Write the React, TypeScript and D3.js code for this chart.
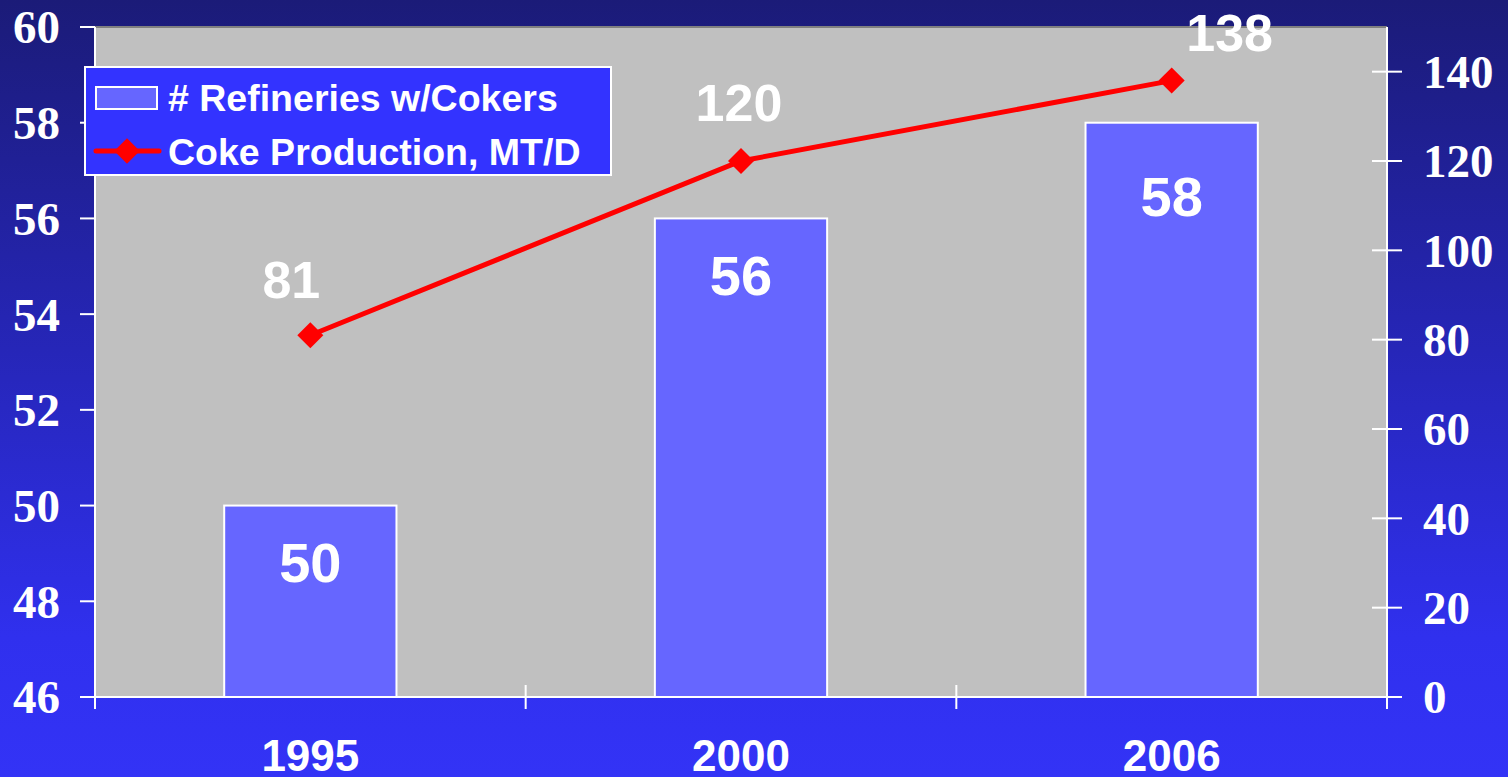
import React from "react";
import * as d3 from "d3";

const categories = ["1995", "2000", "2006"];
const refineries = [50, 56, 58];
const cokeProduction = [81, 120, 138];
const leftTicks = [46, 48, 50, 52, 54, 56, 58, 60];
const rightTicks = [0, 20, 40, 60, 80, 100, 120, 140];
const seriesNames = ["# Refineries w/Cokers", "Coke Production, MT/D"];
// label nudges (dx, dy from the point / bar top)
const lineLabelNudge = [[-19, -37], [-2, -40], [58, -30]];
const barLabelNudge = [76, 77, 93];

const W = 1508, H = 777;
const L = 95, R = 1387, T = 27, B = 697;

export default function App() {
  const x = d3.scaleBand<string>().domain(categories).range([L, R]).padding(0);
  const yL = d3.scaleLinear().domain([46, 60]).range([B, T]);
  const yR = d3.scaleLinear().domain([0, 150]).range([B, T]);
  const barW = x.bandwidth() * 0.4;
  const cx = (c: string) => (x(c) as number) + x.bandwidth() / 2;
  const line = d3.line<number>().x((_, i) => cx(categories[i])).y((d) => yR(d));
  const boundaries = [...categories.map((c) => x(c) as number), R];

  return (
    <svg width={W} height={H} style={{ position: "absolute", left: 0, top: 0 }}>
      <defs>
        <linearGradient id="bg" x1="0" y1="0" x2="0" y2="1">
          <stop offset="0" stopColor="#1b1b78" />
          <stop offset="0.45" stopColor="#2626b8" />
          <stop offset="0.82" stopColor="#3030ee" />
          <stop offset="1" stopColor="#3333f6" />
        </linearGradient>
      </defs>
      <rect width={W} height={H} fill="url(#bg)" />
      <rect x={L} y={T} width={R - L} height={B - T} fill="#c0c0c0" />
      <line x1={L} x2={R} y1={T} y2={T} stroke="#808080" strokeWidth={2} />

      {/* bars */}
      {categories.map((c, i) => (
        <g key={c}>
          <rect x={cx(c) - barW / 2} y={yL(refineries[i])} width={barW} height={B - yL(refineries[i])}
            fill="#6666ff" stroke="#ffffff" strokeWidth={2} />
          <text x={cx(c)} y={yL(refineries[i]) + barLabelNudge[i]} textAnchor="middle" fill="#fff"
            fontFamily="Liberation Sans, Arial, sans-serif" fontWeight="bold" fontSize={56}>{refineries[i]}</text>
        </g>
      ))}

      {/* axes */}
      <line x1={L} x2={L} y1={T} y2={B} stroke="#fff" strokeWidth={2} />
      <line x1={R} x2={R} y1={T} y2={B} stroke="#fff" strokeWidth={2} />
      <line x1={80} x2={1402} y1={B} y2={B} stroke="#fff" strokeWidth={2} />
      {leftTicks.map((t) => (
        <g key={"l" + t}>
          <line x1={80} x2={L} y1={yL(t)} y2={yL(t)} stroke="#fff" strokeWidth={2} />
          <text x={60} y={yL(t)} dy="0.35em" textAnchor="end" fill="#fff"
            fontFamily="Liberation Serif, Times New Roman, serif" fontWeight="bold" fontSize={47}>{t}</text>
        </g>
      ))}
      {rightTicks.map((t) => (
        <g key={"r" + t}>
          <line x1={1372} x2={1402} y1={yR(t)} y2={yR(t)} stroke="#fff" strokeWidth={2} />
          <text x={1423} y={yR(t)} dy="0.35em" textAnchor="start" fill="#fff"
            fontFamily="Liberation Serif, Times New Roman, serif" fontWeight="bold" fontSize={47}>{t}</text>
        </g>
      ))}
      {boundaries.map((bx, i) => (
        <line key={"b" + i} x1={bx} x2={bx} y1={B - 12} y2={B + 12} stroke="#fff" strokeWidth={2} />
      ))}
      {categories.map((c) => (
        <text key={"x" + c} x={cx(c)} y={771} textAnchor="middle" fill="#fff"
          fontFamily="Liberation Sans, Arial, sans-serif" fontWeight="bold" fontSize={44}>{c}</text>
      ))}

      {/* line */}
      <path d={line(cokeProduction) || ""} fill="none" stroke="#ff0000" strokeWidth={5} />
      {cokeProduction.map((v, i) => (
        <g key={"p" + i}>
          <rect x={-9.2} y={-9.2} width={18.4} height={18.4} fill="#ff0000"
            transform={`translate(${cx(categories[i])},${yR(v)}) rotate(45)`} />
          <text x={cx(categories[i]) + lineLabelNudge[i][0]} y={yR(v) + lineLabelNudge[i][1]}
            textAnchor="middle" fill="#fff" fontFamily="Liberation Sans, Arial, sans-serif"
            fontWeight="bold" fontSize={52}>{v}</text>
        </g>
      ))}

      {/* legend */}
      <g>
        <rect x={85} y={67} width={526} height={108} fill="#3333ff" stroke="#fff" strokeWidth={2} />
        <rect x={96} y={87} width={61} height={22} fill="#6666ff" stroke="#fff" strokeWidth={2} />
        <text x={168} y={111} fill="#fff" fontFamily="Liberation Sans, Arial, sans-serif"
          fontWeight="bold" fontSize={37.5}>{seriesNames[0]}</text>
        <line x1={96} x2={159} y1={151} y2={151} stroke="#ff0000" strokeWidth={5} strokeLinecap="round" />
        <rect x={-9} y={-9} width={18} height={18} fill="#ff0000" transform="translate(127,151) rotate(45)" />
        <text x={168} y={165} fill="#fff" fontFamily="Liberation Sans, Arial, sans-serif"
          fontWeight="bold" fontSize={37.5}>{seriesNames[1]}</text>
      </g>
    </svg>
  );
}
